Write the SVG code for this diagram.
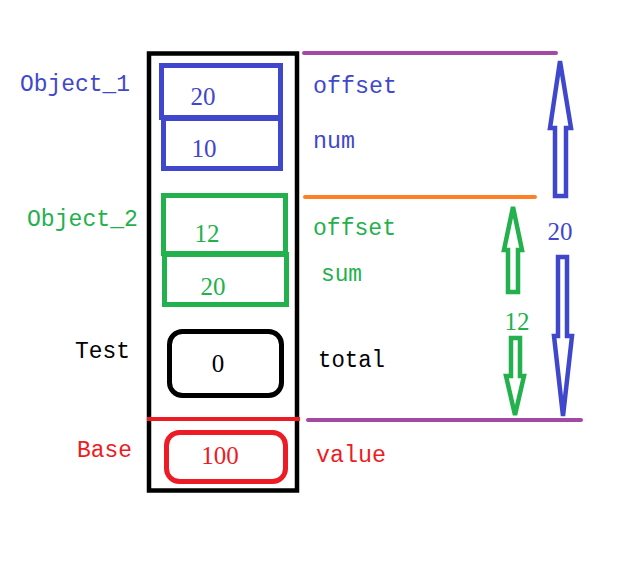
<svg xmlns="http://www.w3.org/2000/svg" width="620" height="567" viewBox="0 0 620 567">
<style>
.lbl{font-family:"Liberation Mono","DejaVu Sans Mono",monospace;font-size:23px}
.num{font-family:"Liberation Serif","DejaVu Serif",serif;font-size:25px;text-anchor:middle}
.blue{fill:#3f48cc}.green{fill:#22b14c}.red{fill:#ed1c24}.blk{fill:#000}
.box{fill:none;stroke-width:5}
.arrow{fill:none;stroke-width:4.5;stroke-linejoin:miter}
</style>
<rect width="620" height="567" fill="#fff"/>
<g id="frame"><rect x="149" y="53.5" width="148" height="437" fill="none" stroke="#000" stroke-width="4.5"/></g>
<g id="object1">
<text class="lbl blue" x="20" y="91" textLength="110" lengthAdjust="spacingAndGlyphs">Object_1</text>
<rect class="box" x="161.5" y="65.5" width="119" height="52" stroke="#3f48cc"/>
<text class="num blue" x="203" y="105">20</text>
<rect class="box" x="163.5" y="118.5" width="117" height="50" stroke="#3f48cc"/>
<text class="num blue" x="204" y="157">10</text>
<text class="lbl blue" x="313" y="93" textLength="84" lengthAdjust="spacingAndGlyphs">offset</text>
<text class="lbl blue" x="313" y="148" textLength="42" lengthAdjust="spacingAndGlyphs">num</text>
</g>
<g id="object2">
<text class="lbl green" x="27" y="226" textLength="111" lengthAdjust="spacingAndGlyphs">Object_2</text>
<rect class="box" x="163.5" y="195.5" width="122" height="58" stroke="#22b14c"/>
<text class="num green" x="207" y="242">12</text>
<rect class="box" x="164.5" y="254.5" width="122" height="50" stroke="#22b14c"/>
<text class="num green" x="213" y="295">20</text>
<text class="lbl green" x="313" y="235" textLength="83" lengthAdjust="spacingAndGlyphs">offset</text>
<text class="lbl green" x="321" y="281" textLength="41" lengthAdjust="spacingAndGlyphs">sum</text>
</g>
<g id="test">
<text class="lbl blk" x="75" y="358" textLength="55" lengthAdjust="spacingAndGlyphs">Test</text>
<rect class="box" x="169.5" y="331.5" width="112" height="64" rx="13" stroke="#000"/>
<text class="num blk" x="218" y="372">0</text>
<text class="lbl blk" x="318" y="367" textLength="67" lengthAdjust="spacingAndGlyphs">total</text>
</g>
<g id="base">
<text class="lbl red" x="77" y="457" textLength="55" lengthAdjust="spacingAndGlyphs">Base</text>
<rect class="box" x="166.5" y="432.5" width="119" height="49" rx="13" stroke="#ed1c24"/>
<text class="num red" x="220" y="464">100</text>
<text class="lbl red" x="316" y="462" textLength="70" lengthAdjust="spacingAndGlyphs">value</text>
</g>
<g id="connectors">
<line x1="147" y1="419" x2="300" y2="419" stroke="#ed1c24" stroke-width="4"/>
<line x1="304" y1="53" x2="556" y2="53" stroke="#a349a4" stroke-width="4" stroke-linecap="round"/>
<line x1="305" y1="197" x2="535" y2="197" stroke="#ff7f27" stroke-width="4" stroke-linecap="round"/>
<line x1="308" y1="420" x2="581" y2="420" stroke="#a349a4" stroke-width="4" stroke-linecap="round"/>
<polygon class="arrow" stroke="#3f48cc" points="560,61 571,128 566,128 566,196 555,196 555,128 550,128"/>
<polygon class="arrow" stroke="#3f48cc" points="558,257 567,257 567,336 572,336 563,416 554,336 558,336"/>
<text class="num blue" x="560" y="240">20</text>
<polygon class="arrow" stroke="#22b14c" points="513,207 522,250 518,250 518,292 508,292 508,250 504,250"/>
<polygon class="arrow" stroke="#22b14c" points="511,338 520,338 520,376 524,376 515,415 506,376 511,376"/>
<text class="num green" x="517" y="330">12</text>
</g>
</svg>
